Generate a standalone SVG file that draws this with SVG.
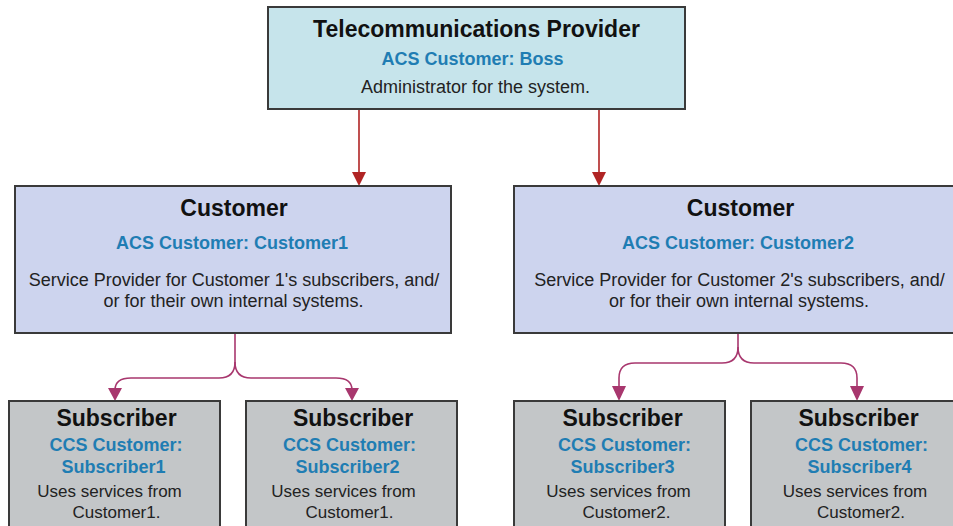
<svg xmlns="http://www.w3.org/2000/svg" width="953" height="526" viewBox="0 0 953 526">
<style>
.box{stroke:#3a3a3a;stroke-width:2}
.top{fill:#c6e4eb}
.cust{fill:#cdd4ee}
.sub{fill:#c3c6c8}
text{font-family:"Liberation Sans",Arial,sans-serif;text-anchor:middle}
.t{font-weight:bold;font-size:23px;fill:#111}
.b{font-weight:bold;font-size:18px;fill:#1f7db3}
.n{font-size:18px;fill:#222}
.s{font-size:17px;fill:#222}
.red{fill:none;stroke:#b02424;stroke-width:1.6}
.mag{fill:none;stroke:#a8376e;stroke-width:1.6}
</style>
<rect width="953" height="526" fill="#fff"/>
<g id="connectors">
<line class="red" x1="359" y1="110" x2="359" y2="173"/>
<path d="M352,172 L366,172 L359,186 z" fill="#b02424"/>
<line class="red" x1="599" y1="110" x2="599" y2="173"/>
<path d="M592,172 L606,172 L599,186 z" fill="#b02424"/>
<path class="mag" d="M235,334 L235,362 Q235,378 219,378 L131,378 Q115,378 115,390"/>
<path class="mag" d="M235,362 Q235,378 251,378 L336,378 Q352,378 352,390"/>
<path d="M108,388 L122,388 L115,401 z" fill="#a8376e"/>
<path d="M345,388 L359,388 L352,401 z" fill="#a8376e"/>
<path class="mag" d="M738,334 L738,347 Q738,363 722,363 L635,363 Q619,363 619,378 L619,388"/>
<path class="mag" d="M738,347 Q738,363 754,363 L841,363 Q857,363 857,378 L857,388"/>
<path d="M612,386 L626,386 L619,401 z" fill="#a8376e"/>
<path d="M850,386 L864,386 L857,401 z" fill="#a8376e"/>
</g>
<g id="provider">
<rect class="box top" x="268" y="7" width="417" height="102"/>
<text class="t" x="476.5" y="37">Telecommunications Provider</text>
<text class="b" x="472.5" y="65">ACS Customer: Boss</text>
<text class="n" x="475.5" y="93">Administrator for the system.</text>
</g>
<g id="customer1">
<rect class="box cust" x="15" y="186" width="436" height="147"/>
<text class="t" x="234" y="216">Customer</text>
<text class="b" x="232" y="249">ACS Customer: Customer1</text>
<text class="n" x="234" y="286">Service Provider for Customer 1's subscribers, and/</text>
<text class="n" x="233.5" y="307">or for their own internal systems.</text>
</g>
<g id="customer2">
<rect class="box cust" x="514" y="186" width="445" height="147"/>
<text class="t" x="740.5" y="216">Customer</text>
<text class="b" x="738" y="249">ACS Customer: Customer2</text>
<text class="n" x="739.5" y="286">Service Provider for Customer 2's subscribers, and/</text>
<text class="n" x="739" y="307">or for their own internal systems.</text>
</g>
<g id="subscriber1">
<rect class="box sub" x="9" y="401" width="211" height="130"/>
<text class="t" x="116.5" y="426">Subscriber</text>
<text class="b" x="116" y="451">CCS Customer:</text>
<text class="b" x="113.5" y="473">Subscriber1</text>
<text class="s" x="109.5" y="497">Uses services from</text>
<text class="s" x="116.5" y="518">Customer1.</text>
</g>
<g id="subscriber2">
<rect class="box sub" x="246" y="401" width="211" height="130"/>
<text class="t" x="353" y="426">Subscriber</text>
<text class="b" x="349.5" y="451">CCS Customer:</text>
<text class="b" x="347.5" y="473">Subscriber2</text>
<text class="s" x="343.5" y="497">Uses services from</text>
<text class="s" x="349.5" y="518">Customer1.</text>
</g>
<g id="subscriber3">
<rect class="box sub" x="514" y="401" width="211" height="130"/>
<text class="t" x="622.5" y="426">Subscriber</text>
<text class="b" x="624.5" y="451">CCS Customer:</text>
<text class="b" x="622.5" y="473">Subscriber3</text>
<text class="s" x="618.5" y="497">Uses services from</text>
<text class="s" x="626.5" y="518">Customer2.</text>
</g>
<g id="subscriber4">
<rect class="box sub" x="751" y="401" width="211" height="130"/>
<text class="t" x="858.5" y="426">Subscriber</text>
<text class="b" x="861.5" y="451">CCS Customer:</text>
<text class="b" x="859.5" y="473">Subscriber4</text>
<text class="s" x="855" y="497">Uses services from</text>
<text class="s" x="861" y="518">Customer2.</text>
</g>
</svg>
